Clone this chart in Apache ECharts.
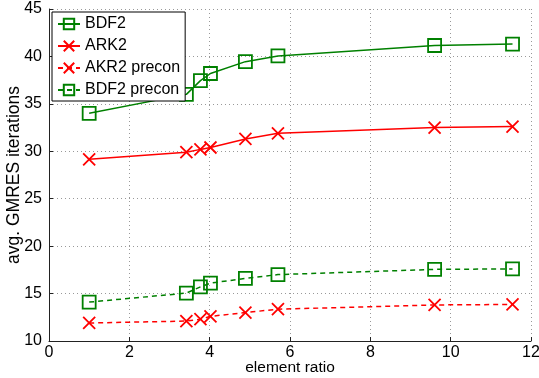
<!DOCTYPE html>
<html>
<head>
<meta charset="utf-8">
<script src="https://cdn.jsdelivr.net/npm/echarts@6/dist/echarts.min.js"></script>
<style>
  html, body { margin: 0; padding: 0; background: #fff; }
  #chart { width: 539px; height: 378px; }
</style>
</head>
<body>
<div id="chart"></div>
<script>
// element ratios (x) shared by every series
var ratios = [1.0, 3.42, 3.77, 4.02, 4.89, 5.7, 9.6, 11.54]
var bdf2 = [34.0, 36.0, 37.45, 38.2, 39.45, 40.05, 41.15, 41.3]
var ark2 = [29.15, 29.9, 30.2, 30.4, 31.3, 31.9, 32.5, 32.6]
var akr2Precon = [11.9, 12.1, 12.3, 12.6, 13.0, 13.35, 13.8, 13.85]
var bdf2Precon = [14.1, 15.05, 15.7, 16.1, 16.6, 17.0, 17.55, 17.6]
var seriesNames = ['BDF2', 'ARK2', 'AKR2 precon', 'BDF2 precon']

var green = '#008000'
var red = '#ff0000'
var font = 'Liberation Sans, Arial, sans-serif'
var cross = 'path://M0,0L10,10M10,0L0,10'

function pairs(ys) {
  return ratios.map(function (x, i) { return [x, ys[i]] })
}

function makeSeries(name, ys, color, symbol, dashed) {
  return {
    name: name,
    type: 'line',
    data: pairs(ys),
    symbol: symbol,
    symbolSize: symbol === 'rect' ? 13 : 12,
    showSymbol: true,
    animation: false,
    lineStyle: { color: color, width: 1.5, type: dashed ? [5, 4] : 'solid' },
    itemStyle: { color: 'transparent', borderColor: color, borderWidth: 1.8 },
    emphasis: { disabled: true }
  }
}

var chart = echarts.init(document.getElementById('chart'))
var option = {
  backgroundColor: '#fff',
  textStyle: { fontFamily: font },
  grid: { left: 49, right: 8, top: 9, bottom: 37, containLabel: false, outerBoundsMode: 'none' },
  legend: {
    orient: 'vertical',
    left: 52,
    top: 12,
    padding: [4, 5, 3, 5],
    itemGap: 6,
    itemWidth: 22,
    itemHeight: 13,
    backgroundColor: '#fff',
    borderColor: '#000',
    borderWidth: 1,
    data: seriesNames,
    textStyle: { fontSize: 16, color: '#000', fontFamily: font }
  },
  xAxis: {
    type: 'value',
    min: 0,
    max: 12,
    interval: 2,
    name: 'element ratio',
    nameLocation: 'middle',
    nameGap: 19,
    nameMoveOverlap: false,
    nameTextStyle: { fontSize: 15.5, color: '#000', fontFamily: font },
    axisLine: { onZero: false, lineStyle: { color: '#222', width: 1 } },
    axisTick: { show: true, inside: true, length: 4, lineStyle: { color: '#222' } },
    axisLabel: { fontSize: 16, color: '#000', margin: 4, fontFamily: font },
    splitLine: { show: true, lineStyle: { color: '#999', type: [1, 3], width: 1 } }
  },
  yAxis: {
    type: 'value',
    min: 10,
    max: 45,
    interval: 5,
    name: 'avg. GMRES iterations',
    nameLocation: 'middle',
    nameGap: 26,
    nameMoveOverlap: false,
    nameTextStyle: { fontSize: 17.5, color: '#000', fontFamily: font },
    axisLine: { show: true, onZero: false, lineStyle: { color: '#222', width: 1 } },
    axisTick: { show: true, inside: true, length: 4, lineStyle: { color: '#222' } },
    axisLabel: { fontSize: 16, color: '#000', margin: 7, fontFamily: font },
    splitLine: { show: true, lineStyle: { color: '#999', type: [1, 3], width: 1 } }
  },
  series: [
    makeSeries(seriesNames[0], bdf2, green, 'rect', false),
    makeSeries(seriesNames[1], ark2, red, cross, false),
    makeSeries(seriesNames[2], akr2Precon, red, cross, true),
    makeSeries(seriesNames[3], bdf2Precon, green, 'rect', true)
  ]
}
option && chart.setOption(option)
</script>
</body>
</html>
